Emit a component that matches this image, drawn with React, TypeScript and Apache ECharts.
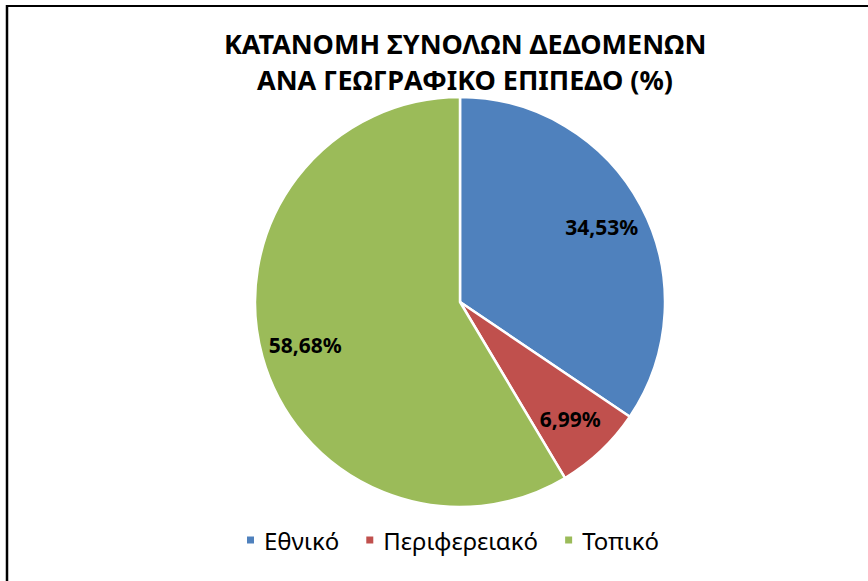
import React, { useEffect, useRef } from "react";
import * as echarts from "echarts";

const titleLines = ["ΚΑΤΑΝΟΜΗ ΣΥΝΟΛΩΝ ΔΕΔΟΜΕΝΩΝ", "ΑΝΑ ΓΕΩΓΡΑΦΙΚΟ ΕΠΙΠΕΔΟ (%)"];
const categories = ["Εθνικό", "Περιφερειακό", "Τοπικό"];
const values = [34.53, 6.99, 58.68];
const colors = ["#4F81BD", "#C0504D", "#9BBB59"];

export default function App() {
  const ref = useRef<HTMLDivElement>(null);
  useEffect(() => {
    if (!ref.current) return;
    const chart = echarts.init(ref.current, null, { renderer: "svg" });
    const data = categories.map((name, i) => ({ name, value: values[i] }));
    const font = "'Noto Sans', sans-serif";
    chart.setOption({
      animation: false,
      backgroundColor: "#ffffff",
      color: colors,
      title: {
        text: titleLines.join("\n"),
        left: 460,
        textAlign: "center",
        top: 20,
        textStyle: { fontFamily: font, fontSize: 27, fontWeight: "bold", color: "#000", lineHeight: 36 },
      },
      legend: {
        data: categories,
        bottom: 24,
        left: 240,
        icon: "rect",
        itemWidth: 9,
        itemHeight: 9,
        itemGap: 25,
        textStyle: { fontFamily: font, fontSize: 24, color: "#000", padding: [0, 0, 0, 4] },
      },
      graphic: [
        { type: "line", shape: { x1: 6, y1: 6, x2: 868, y2: 6 }, style: { stroke: "#000", lineWidth: 2 } },
        { type: "line", shape: { x1: 7, y1: 5, x2: 7, y2: 581 }, style: { stroke: "#000", lineWidth: 2.5 } },
      ],
      series: [
        {
          type: "pie",
          center: [460, 302],
          radius: 205,
          startAngle: 90,
          clockwise: true,
          data,
          label: { show: false },
          labelLine: { show: false },
          itemStyle: { borderColor: "#fff", borderWidth: 2.5 },
          silent: true,
        },
        {
          type: "pie",
          center: [460, 302],
          radius: [110, 205],
          startAngle: 90,
          clockwise: true,
          data,
          silent: true,
          itemStyle: { color: "rgba(0,0,0,0)", borderWidth: 0 },
          label: {
            show: true,
            position: "inside",
            fontFamily: font,
            fontSize: 21,
            fontWeight: "bold",
            color: "#000",
            formatter: (p: any) => p.value.toFixed(2).replace(".", ",") + "%",
          },
          labelLine: { show: false },
        },
      ],
    });
    return () => chart.dispose();
  }, []);
  return <div ref={ref} style={{ position: "fixed", left: 0, top: 0, width: 868, height: 581 }} />;
}
